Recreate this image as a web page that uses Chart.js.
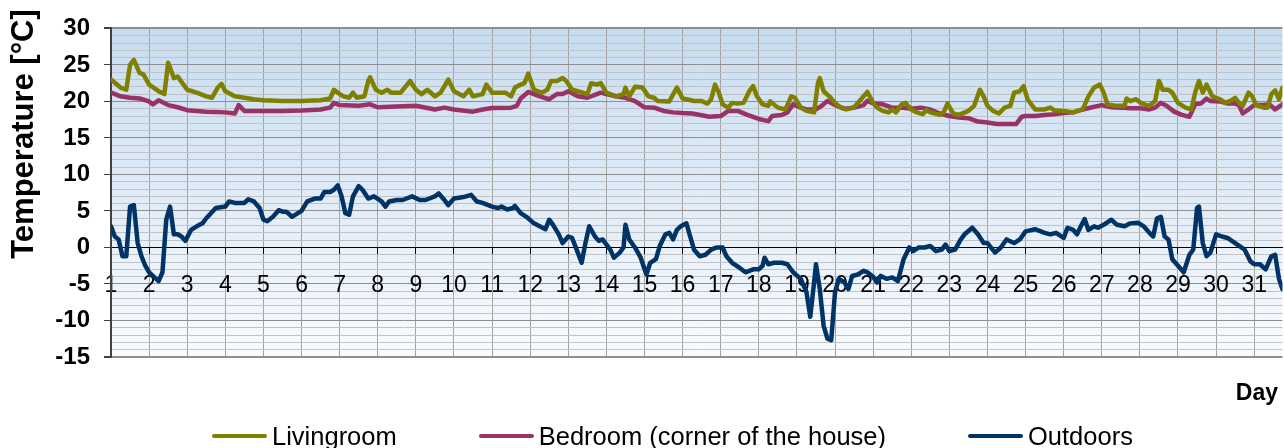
<!DOCTYPE html>
<html>
<head>
<meta charset="utf-8">
<title>Temperatures</title>
<script src="https://cdn.jsdelivr.net/npm/chart.js@4/dist/chart.umd.min.js"></script>
<style>
  html, body { margin: 0; padding: 0; background: #fff; overflow: hidden; }
  #wrap { position: relative; width: 1284px; height: 448px; }
  #legend {
    position: absolute; left: 212px; top: 422px; margin: 0; padding: 0;
    list-style: none; display: flex; gap: 82px;
    font: 25.5px "Liberation Sans", Arial, sans-serif; line-height: 28px; color: #000;
  }
  #legend li { display: flex; align-items: center; white-space: nowrap; }
  #legend .swatch { display: inline-block; width: 55px; height: 4px; border-radius: 2px; margin-right: 5px; }
</style>
</head>
<body>
<div id="wrap">
  <canvas id="chart"></canvas>
  <ul id="legend"></ul>
</div>
<script>
// series names and axis titles
const seriesNames = ["Livingroom", "Bedroom (corner of the house)", "Outdoors"];
const yTitle = "Temperature [°C]";
const xTitle = "Day";

// axis ranges
const dayMin = 1;
const dayMax = 31.74;
const tempMin = -15;
const tempMax = 30;

// Livingroom
const livingDays = [1.0, 1.25, 1.4, 1.5, 1.6, 1.75, 1.85, 2.0, 2.25, 2.4, 2.5, 2.65, 2.75, 3.0, 3.25, 3.5, 3.65, 3.8, 3.9, 4.0,
  4.25, 4.5, 4.75, 5.0, 5.5, 6.0, 6.5, 6.75, 6.85, 6.95, 7.1, 7.25, 7.35, 7.45, 7.65, 7.75, 7.8, 7.95, 8.1, 8.25,
  8.35, 8.6, 8.85, 9.0, 9.15, 9.3, 9.5, 9.65, 9.85, 10.0, 10.25, 10.4, 10.5, 10.75, 10.85, 11.0, 11.2, 11.35, 11.5, 11.6,
  11.75, 11.85, 11.95, 12.1, 12.3, 12.45, 12.55, 12.7, 12.85, 12.95, 13.1, 13.25, 13.5, 13.6, 13.75, 13.85, 14.0, 14.25, 14.45, 14.5,
  14.6, 14.75, 14.95, 15.1, 15.25, 15.35, 15.65, 15.85, 16.0, 16.1, 16.3, 16.5, 16.65, 16.75, 16.85, 16.95, 17.05, 17.2, 17.3, 17.45,
  17.6, 17.75, 17.85, 17.95, 18.1, 18.25, 18.3, 18.5, 18.7, 18.85, 18.95, 19.1, 19.25, 19.45, 19.55, 19.6, 19.7, 19.85, 20.0, 20.15,
  20.3, 20.5, 20.6, 20.75, 20.85, 21.0, 21.1, 21.25, 21.4, 21.5, 21.6, 21.75, 21.85, 22.0, 22.15, 22.3, 22.4, 22.5, 22.75, 22.85,
  22.95, 23.1, 23.25, 23.5, 23.65, 23.8, 23.9, 24.0, 24.15, 24.3, 24.45, 24.6, 24.7, 24.85, 24.95, 25.05, 25.25, 25.5, 25.65, 25.75,
  26.0, 26.25, 26.5, 26.65, 26.8, 26.95, 27.05, 27.15, 27.35, 27.6, 27.65, 27.75, 27.9, 28.05, 28.25, 28.4, 28.5, 28.6, 28.75, 28.85,
  29.0, 29.2, 29.35, 29.45, 29.55, 29.65, 29.75, 29.9, 30.1, 30.25, 30.4, 30.5, 30.6, 30.7, 30.85, 30.95, 31.05, 31.25, 31.35, 31.45,
  31.55, 31.65, 31.74];
const livingTemps = [23.0, 21.9, 21.6, 25.0, 25.7, 23.9, 23.7, 22.3, 21.4, 21.0, 25.3, 23.2, 23.4, 21.6, 21.2, 20.7, 20.5, 21.9, 22.4, 21.4,
  20.7, 20.5, 20.3, 20.15, 20.05, 20.05, 20.15, 20.4, 21.6, 21.2, 20.7, 20.5, 21.2, 20.5, 20.7, 22.8, 23.3, 21.6, 21.2, 21.6,
  21.2, 21.2, 22.8, 21.6, 21.0, 21.6, 20.7, 21.2, 23.0, 21.4, 20.7, 21.6, 20.7, 21.0, 22.3, 21.2, 21.2, 21.2, 20.7, 21.9,
  22.3, 22.5, 23.8, 21.6, 21.2, 21.6, 22.8, 22.8, 23.2, 22.8, 21.6, 21.4, 21.0, 22.5, 22.3, 22.5, 21.2, 20.7, 21.0, 21.9,
  20.7, 22.0, 21.9, 20.7, 20.5, 20.05, 20.0, 21.9, 20.4, 20.3, 20.05, 20.05, 19.7, 20.3, 22.3, 21.2, 19.6, 19.15, 19.8, 19.7,
  19.8, 21.4, 22.1, 20.7, 19.6, 19.4, 20.0, 19.15, 18.9, 20.7, 20.5, 19.15, 18.7, 18.5, 22.5, 23.2, 21.4, 20.7, 19.8, 19.15,
  18.9, 19.2, 19.8, 20.7, 21.3, 19.8, 19.15, 18.7, 18.5, 18.9, 18.5, 19.6, 19.8, 18.9, 18.5, 18.25, 18.8, 18.5, 18.15, 18.5,
  19.7, 18.35, 18.15, 18.7, 19.4, 21.6, 20.7, 19.4, 18.7, 18.35, 19.15, 19.4, 21.2, 21.4, 22.1, 20.3, 18.9, 18.9, 19.15, 18.8,
  18.7, 18.5, 18.9, 20.7, 21.9, 22.3, 21.2, 19.6, 19.4, 19.4, 20.4, 20.05, 20.3, 19.7, 19.4, 20.05, 22.8, 21.6, 21.6, 21.2,
  19.8, 19.15, 18.9, 21.2, 22.8, 21.2, 22.3, 20.7, 20.3, 19.8, 20.15, 20.5, 19.8, 19.4, 21.2, 20.7, 19.5, 19.15, 19.15, 21.0,
  21.5, 20.3, 21.9];

// Bedroom (corner of the house)
const bedroomDays = [1.0, 1.25, 1.5, 1.75, 2.0, 2.1, 2.25, 2.5, 2.75, 3.0, 3.5, 3.75, 4.0, 4.25, 4.35, 4.5, 5.0, 5.5, 6.0, 6.5,
  6.75, 6.85, 7.0, 7.5, 7.8, 8.0, 8.5, 9.0, 9.5, 9.75, 10.0, 10.5, 10.75, 11.0, 11.5, 11.65, 11.75, 11.95, 12.25, 12.5,
  12.7, 12.85, 13.0, 13.25, 13.5, 13.75, 13.85, 14.0, 14.25, 14.5, 14.75, 15.0, 15.25, 15.5, 15.75, 16.0, 16.25, 16.5, 16.7, 17.0,
  17.2, 17.45, 17.7, 18.0, 18.25, 18.35, 18.6, 18.75, 18.9, 19.1, 19.25, 19.5, 19.65, 19.8, 20.0, 20.25, 20.5, 20.75, 20.85, 21.0,
  21.25, 21.5, 21.75, 22.0, 22.25, 22.5, 22.75, 23.0, 23.25, 23.5, 23.75, 24.0, 24.25, 24.5, 24.75, 24.9, 25.0, 25.25, 25.5, 25.75,
  26.0, 26.25, 26.5, 26.75, 27.0, 27.25, 27.5, 27.75, 28.0, 28.25, 28.4, 28.55, 28.7, 28.9, 29.1, 29.3, 29.45, 29.6, 29.75, 29.85,
  30.1, 30.3, 30.5, 30.6, 30.7, 30.85, 31.0, 31.25, 31.4, 31.55, 31.74];
const bedroomTemps = [21.2, 20.7, 20.5, 20.4, 20.0, 19.6, 20.15, 19.5, 19.2, 18.8, 18.6, 18.55, 18.5, 18.35, 19.5, 18.7, 18.7, 18.7, 18.75, 18.9,
  19.15, 19.8, 19.5, 19.4, 19.6, 19.2, 19.3, 19.4, 18.9, 19.15, 18.9, 18.6, 18.9, 19.1, 19.15, 19.4, 20.4, 21.3, 20.7, 20.3,
  21.0, 21.0, 21.4, 20.7, 20.5, 21.0, 21.2, 21.0, 20.7, 20.5, 20.05, 19.2, 19.15, 18.7, 18.5, 18.4, 18.35, 18.1, 17.9, 18.0,
  18.7, 18.7, 18.15, 17.6, 17.3, 18.0, 18.15, 18.5, 19.6, 19.15, 18.9, 18.9, 19.4, 20.05, 19.5, 19.0, 19.15, 19.5, 20.1, 19.7,
  19.6, 19.15, 19.15, 19.0, 19.15, 18.9, 18.35, 18.0, 17.8, 17.7, 17.25, 17.1, 16.9, 16.9, 16.9, 17.9, 18.0, 18.0, 18.15, 18.25,
  18.4, 18.5, 18.9, 19.2, 19.5, 19.2, 19.15, 19.05, 19.05, 18.9, 19.15, 19.8, 19.4, 18.6, 18.15, 17.9, 19.6, 19.7, 20.4, 20.05,
  20.0, 19.7, 19.7, 19.5, 18.35, 18.9, 19.5, 19.5, 19.6, 18.9, 19.6];

// Outdoors
const outdoorDays = [1.0, 1.1, 1.2, 1.3, 1.4, 1.5, 1.6, 1.7, 1.8, 1.9, 2.0, 2.1, 2.25, 2.35, 2.45, 2.55, 2.65, 2.75, 2.85, 2.95,
  3.1, 3.25, 3.4, 3.5, 3.75, 4.0, 4.1, 4.25, 4.5, 4.6, 4.75, 4.9, 5.0, 5.1, 5.25, 5.4, 5.5, 5.6, 5.75, 6.0,
  6.15, 6.35, 6.5, 6.6, 6.75, 6.85, 6.95, 7.05, 7.15, 7.25, 7.35, 7.5, 7.6, 7.75, 7.9, 8.1, 8.2, 8.3, 8.5, 8.65,
  8.9, 9.1, 9.25, 9.5, 9.6, 9.75, 9.85, 10.0, 10.25, 10.45, 10.6, 10.75, 11.0, 11.15, 11.25, 11.4, 11.55, 11.6, 11.75, 11.9,
  12.1, 12.25, 12.4, 12.5, 12.6, 12.75, 12.85, 13.0, 13.1, 13.25, 13.35, 13.45, 13.55, 13.7, 13.8, 13.9, 14.1, 14.2, 14.35, 14.45,
  14.5, 14.6, 14.75, 14.9, 15.05, 15.15, 15.3, 15.4, 15.55, 15.65, 15.75, 15.85, 15.95, 16.1, 16.2, 16.3, 16.45, 16.6, 16.75, 16.9,
  17.05, 17.15, 17.3, 17.5, 17.65, 17.85, 18.0, 18.1, 18.15, 18.25, 18.4, 18.6, 18.75, 18.9, 19.1, 19.25, 19.35, 19.45, 19.5, 19.6,
  19.7, 19.8, 19.9, 20.0, 20.1, 20.25, 20.35, 20.45, 20.6, 20.75, 20.85, 21.0, 21.1, 21.2, 21.35, 21.5, 21.65, 21.8, 21.95, 22.05,
  22.2, 22.35, 22.5, 22.65, 22.8, 22.9, 23.0, 23.15, 23.3, 23.4, 23.6, 23.75, 23.9, 24.0, 24.2, 24.35, 24.5, 24.7, 24.85, 25.0,
  25.25, 25.5, 25.65, 25.8, 26.0, 26.1, 26.25, 26.35, 26.45, 26.55, 26.65, 26.8, 26.9, 27.05, 27.25, 27.4, 27.6, 27.75, 27.95, 28.1,
  28.25, 28.35, 28.45, 28.55, 28.65, 28.75, 28.85, 29.0, 29.15, 29.3, 29.4, 29.5, 29.55, 29.65, 29.75, 29.85, 30.0, 30.15, 30.3, 30.5,
  30.75, 30.9, 31.0, 31.15, 31.3, 31.45, 31.55, 31.65, 31.74];
const outdoorTemps = [2.9, 1.5, 1.1, -1.2, -1.2, 5.6, 5.8, 0.6, -1.2, -2.5, -3.4, -3.9, -4.6, -3.4, 3.8, 5.6, 1.8, 1.8, 1.5, 0.9,
  2.4, 2.9, 3.3, 4.0, 5.4, 5.6, 6.3, 6.1, 6.1, 6.6, 6.3, 5.4, 3.8, 3.6, 4.2, 5.1, 4.9, 4.9, 4.2, 5.0,
  6.3, 6.7, 6.7, 7.6, 7.6, 7.9, 8.5, 7.0, 4.7, 4.5, 7.0, 8.4, 7.9, 6.7, 7.0, 6.3, 5.6, 6.3, 6.5, 6.5,
  7.0, 6.5, 6.5, 7.0, 7.4, 6.5, 5.8, 6.7, 6.9, 7.2, 6.3, 6.1, 5.6, 5.4, 5.6, 5.2, 5.4, 5.7, 4.7, 4.2,
  3.3, 2.9, 2.5, 3.8, 3.1, 1.8, 0.6, 1.5, 1.3, -0.7, -2.1, 0.6, 2.9, 1.5, 0.9, 1.1, -0.3, -1.4, -0.7, 0.0,
  3.1, 1.1, 0.0, -1.4, -3.7, -2.1, -1.6, 0.2, 1.8, 2.0, 1.1, 2.4, 2.9, 3.3, 1.5, -0.3, -1.2, -1.0, -0.3, 0.0,
  0.0, -1.2, -2.1, -2.8, -3.4, -3.0, -3.0, -2.5, -1.4, -2.3, -2.1, -2.1, -2.3, -3.4, -4.3, -6.1, -9.5, -4.8, -2.3, -5.7,
  -10.7, -12.5, -12.7, -6.1, -4.3, -4.8, -5.7, -3.9, -3.7, -3.2, -3.4, -4.0, -4.8, -3.9, -4.3, -4.1, -4.6, -1.6, 0.0, -0.5,
  0.0, 0.0, 0.2, -0.5, -0.3, 0.4, -0.5, -0.3, 1.1, 1.8, 2.7, 1.8, 0.6, 0.6, -0.7, 0.0, 1.1, 0.6, 1.1, 2.2,
  2.5, 2.0, 1.8, 2.0, 1.3, 2.7, 2.4, 1.8, 2.9, 3.9, 2.4, 2.9, 2.7, 3.1, 3.8, 3.1, 2.9, 3.3, 3.4, 2.9,
  2.0, 1.5, 4.0, 4.2, 1.5, 1.1, -1.6, -2.5, -3.4, -1.0, -0.3, 5.4, 5.6, 0.6, -1.2, -0.7, 1.8, 1.5, 1.3, 0.6,
  -0.3, -1.9, -2.3, -2.3, -3.0, -1.2, -1.0, -4.3, -5.7];

const seriesColors = ["#808000", "#993366", "#003366"];

const toPoints = (days, temps) => days.map((d, i) => ({ x: d, y: temps[i] }));

// gradient fill behind the plot area
const plotBackground = {
  id: "plotBackground",
  beforeDraw(chart) {
    const { ctx, chartArea: a } = chart;
    const g = ctx.createLinearGradient(0, a.top, 0, a.bottom);
    g.addColorStop(0, "#c8dcf0");
    g.addColorStop(1, "#f9fbfe");
    ctx.save();
    ctx.fillStyle = g;
    ctx.fillRect(a.left, a.top, a.right - a.left, a.bottom - a.top);
    ctx.restore();
  },
};

// axis titles sit where the original puts them
const axisTitles = {
  id: "axisTitles",
  afterDraw(chart) {
    const ctx = chart.ctx;
    ctx.save();
    ctx.fillStyle = "#000";
    ctx.font = 'bold 31px "Liberation Sans", Arial, sans-serif';
    ctx.textAlign = "center";
    ctx.textBaseline = "middle";
    ctx.translate(24, 134);
    ctx.rotate(-Math.PI / 2);
    ctx.fillText(yTitle, 0, 0);
    ctx.restore();

    ctx.save();
    ctx.fillStyle = "#000";
    ctx.font = 'bold 23px "Liberation Sans", Arial, sans-serif';
    ctx.textAlign = "right";
    ctx.textBaseline = "alphabetic";
    ctx.fillText(xTitle, 1278, 400);
    ctx.restore();
  },
};

// legend as html so the items can sit where they do in the original
const htmlLegend = {
  id: "htmlLegend",
  afterUpdate(chart) {
    const list = document.getElementById("legend");
    list.innerHTML = "";
    chart.options.plugins.legend.labels.generateLabels(chart).forEach((item) => {
      const li = document.createElement("li");
      const swatch = document.createElement("span");
      swatch.className = "swatch";
      swatch.style.background = item.strokeStyle;
      const text = document.createElement("span");
      text.textContent = item.text;
      li.append(swatch, text);
      list.appendChild(li);
    });
  },
};

Chart.defaults.font.family = '"Liberation Sans", Arial, sans-serif';
Chart.defaults.color = "#000";

const lineStyle = (i) => ({
  label: seriesNames[i],
  borderColor: seriesColors[i],
  backgroundColor: seriesColors[i],
  borderWidth: 4.5,
  pointRadius: 0,
  pointHoverRadius: 0,
  tension: 0,
  borderJoinStyle: "round",
  borderCapStyle: "round",
});

const ctx = document.getElementById("chart").getContext("2d");
window.myChart = new Chart(ctx, {
  type: "line",
  data: {
    datasets: [
      { ...lineStyle(0), data: toPoints(livingDays, livingTemps) },
      { ...lineStyle(1), data: toPoints(bedroomDays, bedroomTemps) },
      { ...lineStyle(2), data: toPoints(outdoorDays, outdoorTemps) },
    ],
  },
  options: {
    responsive: true,
    maintainAspectRatio: false,
    animation: false,
    layout: { padding: { top: 25, bottom: 91, left: 0, right: 0 } },
    plugins: {
      legend: { display: false },
      tooltip: { enabled: false },
    },
    scales: {
      x: {
        type: "linear",
        position: { y: 0 },
        min: dayMin,
        max: dayMax,
        bounds: "data",
        ticks: {
          stepSize: 1,
          includeBounds: false,
          autoSkip: false,
          maxRotation: 0,
          padding: 17,
          font: { size: 23 },
          color: "#000",
        },
        grid: { color: "#a3a3a3", lineWidth: 1, tickLength: 7, tickColor: "#000" },
        border: { color: "#000", width: 1 },
      },
      y: {
        min: tempMin,
        max: tempMax,
        bounds: "data",
        ticks: {
          stepSize: 1,
          autoSkip: false,
          padding: 14,
          font: { size: 24, weight: "bold" },
          color: "#000",
          callback: (v) => (v % 5 === 0 ? v : ""),
        },
        grid: {
          tickLength: 7,
          color: (c) => (c.tick.value === 0 ? "#000" : c.tick.value % 5 === 0 ? "#8e8e8e" : "#c0c4c8"),
          lineWidth: (c) => (c.tick.value === tempMax || c.tick.value === tempMin ? 2 : 1),
          tickColor: (c) => (c.tick.value % 5 === 0 ? "#404040" : "rgba(0,0,0,0)"),
        },
        border: { color: "#404040", width: 2 },
        afterFit: (scale) => {
          scale.width = 111;
        },
      },
    },
  },
  plugins: [plotBackground, axisTitles, htmlLegend],
});
</script>
</body>
</html>
